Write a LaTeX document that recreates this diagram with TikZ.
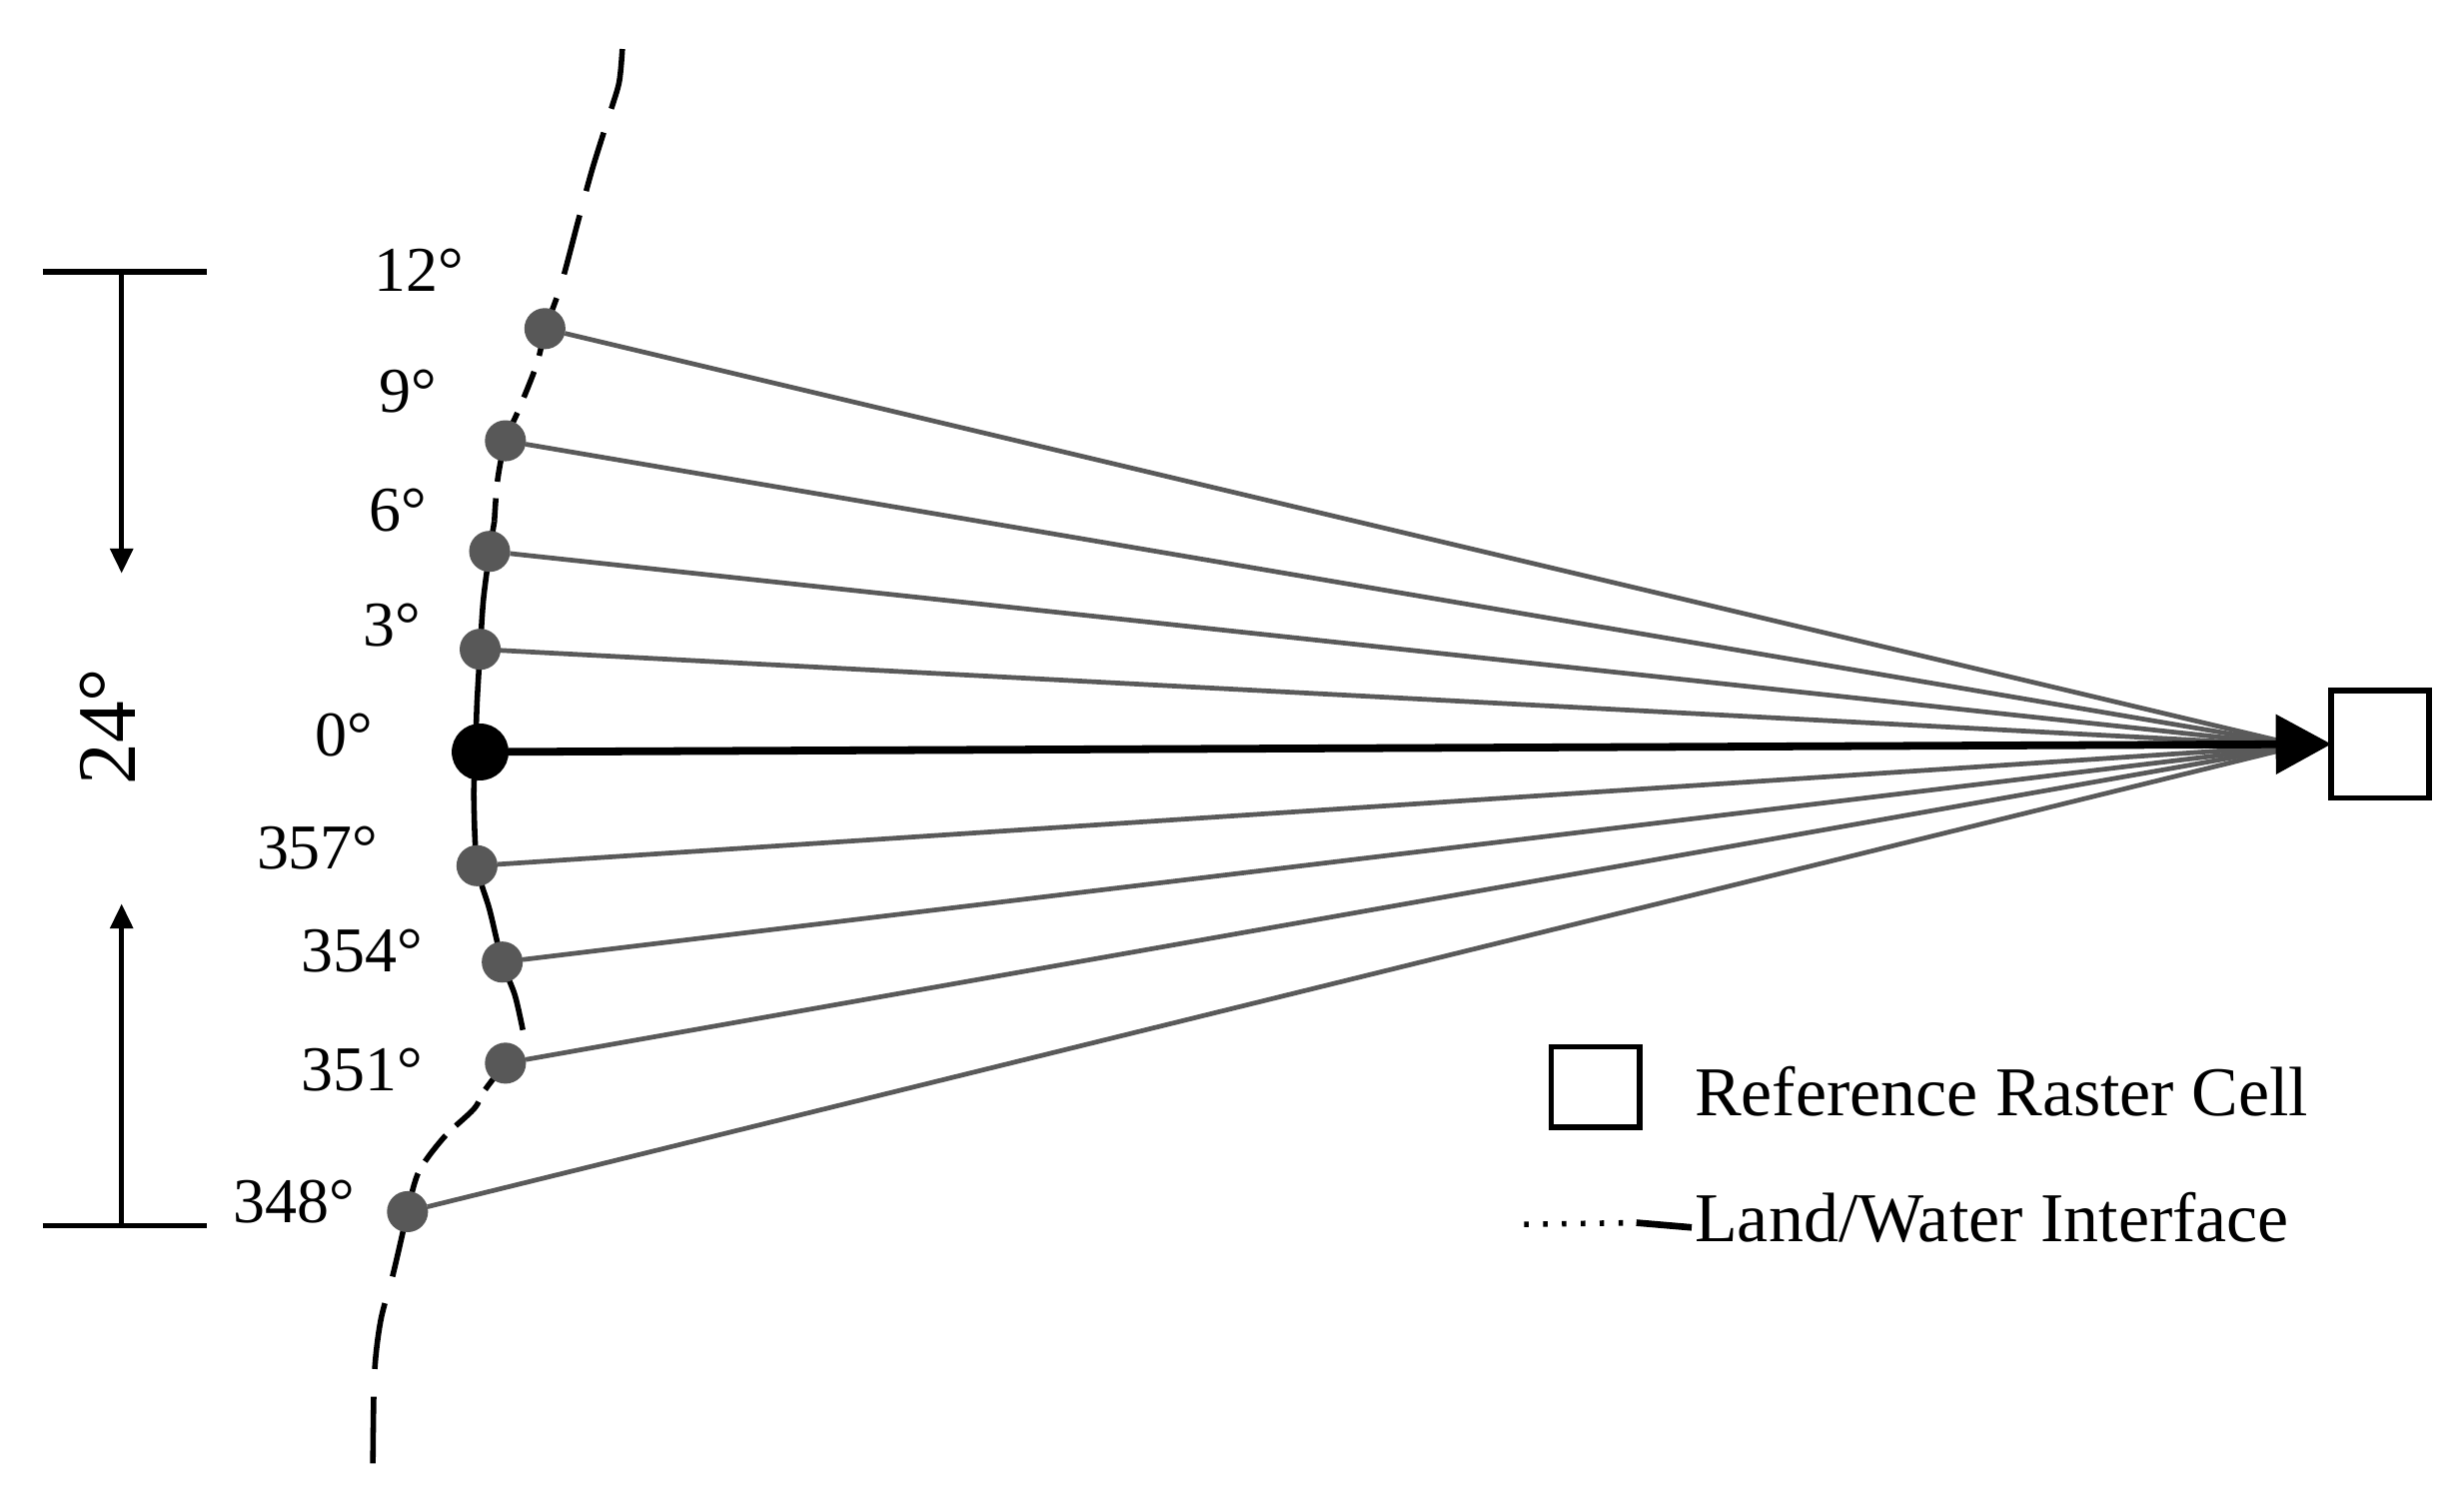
\documentclass[tikz,border=0pt]{standalone}
\usepackage{fontspec}
\setmainfont{Liberation Serif}
\usepackage{tikz}
\usetikzlibrary{arrows.meta}

\definecolor{raygray}{RGB}{90,90,90}
\definecolor{dotgray}{RGB}{88,88,88}

\begin{document}
\begin{tikzpicture}[x=0.1mm, y=-0.1mm,
  every node/.style={inner sep=0pt, outer sep=0pt},
  dot/.style={circle, fill=dotgray, minimum size=2.6mm},
  bigdot/.style={circle, fill=black, minimum size=3.6mm},
  deg/.style={font=\fontsize{11.5}{13}\selectfont},
  keylabel/.style={font=\fontsize{12.6}{14}\selectfont, anchor=west},
  ray/.style={draw=raygray, line width=0.85pt},
  coast/.style={line width=1pt},
  cellbox/.style={draw, line width=1pt, fill=white}]
\useasboundingbox (0,0) rectangle (1560,955.2);

\draw[coast, dash pattern=on 11pt off 4.5pt] plot[smooth] coordinates {(394,31) (392,52) (386,72) (375,107) (366,140) (355,181) (345,208)};
\draw[coast, dash pattern=on 5pt off 3pt] plot[smooth] coordinates {(345,208) (340,230) (329,258) (320,279) (315,304) (313,330)};
\draw[coast] plot[smooth] coordinates {(313,330) (310,349) (306,380) (304,411) (302,445) (301,476) (300,505) (302,548) (310,576) (318,609) (326,630) (331,652)};
\draw[coast, dash pattern=on 6pt off 2.5pt] plot[smooth] coordinates {(320,673) (307,690) (300,702) (281,720) (265,742) (258,767)};
\draw[coast, dash pattern=on 12pt off 5pt] plot[smooth] coordinates {(258,767) (249,806) (241,836) (237,871) (236,935)};

\node[dot] (d12) at (345,208) {};
\node[dot] (d9) at (320,279) {};
\node[dot] (d6) at (310,349) {};
\node[dot] (d3) at (304,411) {};
\node[bigdot] (d0) at (304,476) {};
\node[dot] (d357) at (302,548) {};
\node[dot] (d354) at (318,609) {};
\node[dot] (d351) at (320,673) {};
\node[dot] (d348) at (258,767) {};

\node[deg] (l12) at (265,171) {12°};
\node[deg] (l9) at (258,248) {9°};
\node[deg] (l6) at (252,323) {6°};
\node[deg] (l3) at (248,396) {3°};
\node[deg] (l0) at (218,465) {0°};
\node[deg] (l357) at (201,537) {357°};
\node[deg] (l354) at (229,602) {354°};
\node[deg] (l351) at (229,677) {351°};
\node[deg] (l348) at (186,761) {348°};

\node[cellbox, minimum width=6.2mm, minimum height=6.8mm] (cell) at (1507,471) {};
\coordinate (focus) at (1456,472);

\draw[ray] (d12) -- (focus);
\draw[ray] (d9) -- (focus);
\draw[ray] (d6) -- (focus);
\draw[ray] (d3) -- (focus);
\draw[ray] (d357) -- (focus);
\draw[ray] (d354) -- (focus);
\draw[ray] (d351) -- (focus);
\draw[ray] (d348) -- (focus);
\draw[line width=1.4pt, -{Triangle[length=10pt,width=10.5pt]}] (d0) -- (cell.west);

\coordinate (tl) at (27,172);
\coordinate (tr) at (131,172);
\coordinate (tm) at (77,172);
\coordinate (tt) at (77,363);
\coordinate (bl) at (27,776);
\coordinate (br) at (131,776);
\coordinate (bm) at (77,776);
\coordinate (bt) at (77,572);
\draw[line width=1pt] (tl) -- (tr);
\draw[line width=1pt] (bl) -- (br);
\draw[line width=1pt, -{Triangle[length=4.5pt,width=4pt]}] (tm) -- (tt);
\draw[line width=1pt, -{Triangle[length=4.5pt,width=4pt]}] (bm) -- (bt);
\node[rotate=90, font=\fontsize{15}{18}\selectfont] (span) at (68,460) {24°};

\node[cellbox, minimum width=5.6mm, minimum height=5.1mm] (key) at (1010,688) {};
\node[keylabel] (keytext) at (1073,691) {Reference Raster Cell};
\coordinate (ks) at (965,775);
\coordinate (km) at (1036,774);
\coordinate (ke) at (1071,777);
\draw[line width=1pt, dash pattern=on 0.8pt off 2.6pt] (ks) -- (km);
\draw[line width=1.2pt] (km) -- (ke);
\node[keylabel] (coasttext) at (1073,771) {Land/Water Interface};
\end{tikzpicture}
\end{document}
